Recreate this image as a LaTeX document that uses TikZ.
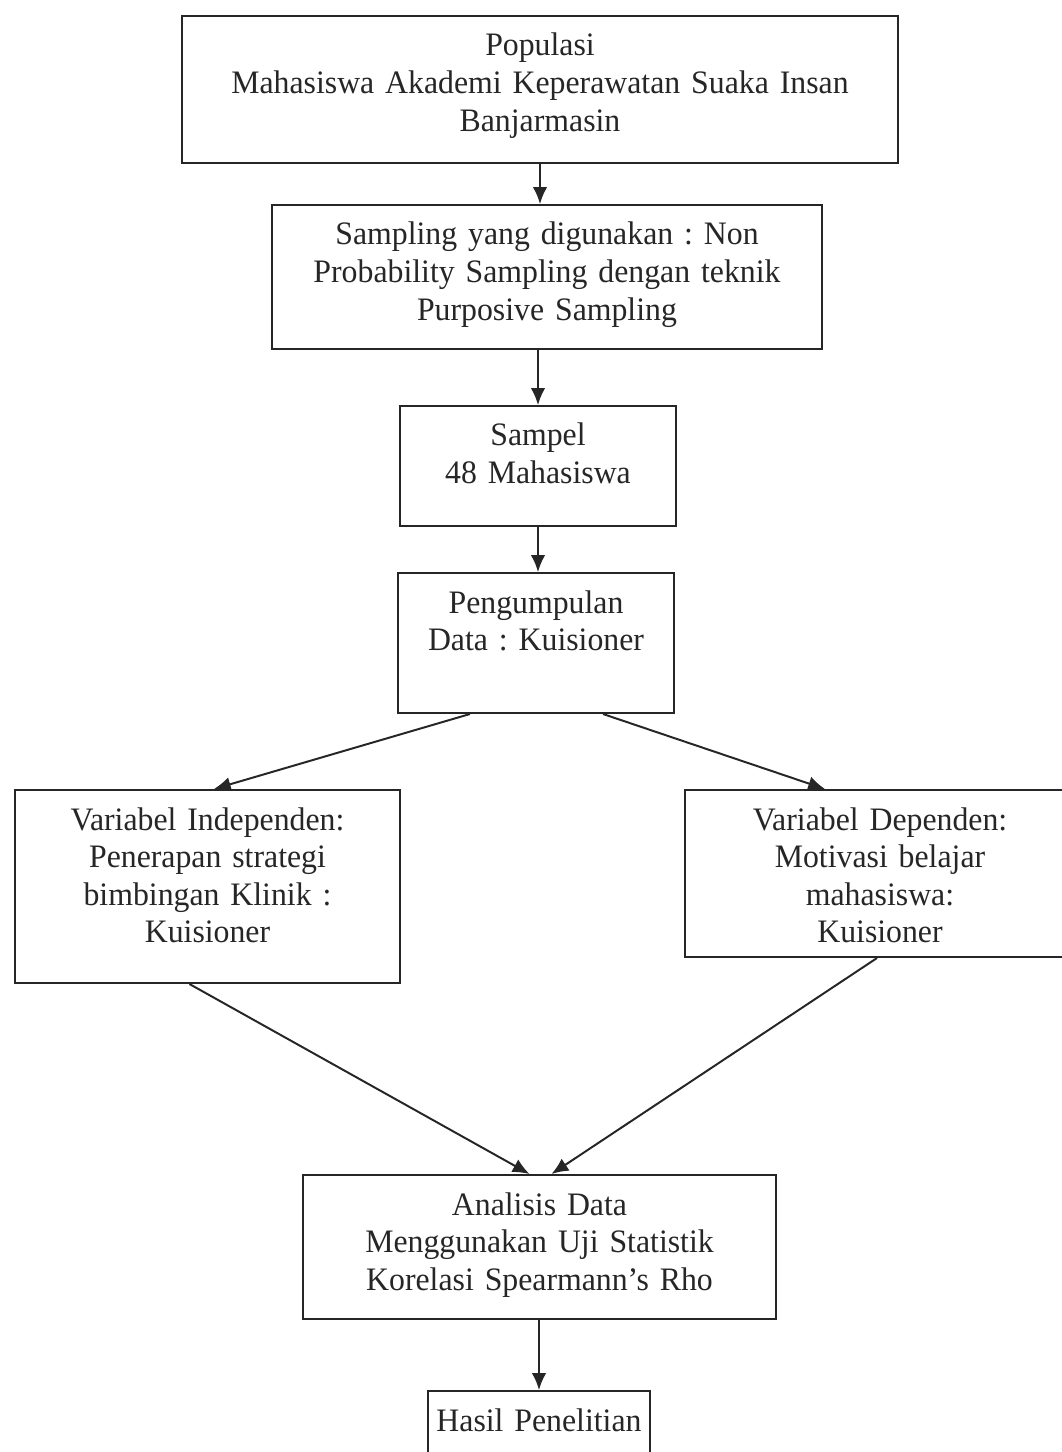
\documentclass[tikz,border=0pt]{standalone}
\usepackage{fontspec}
\setmainfont{Liberation Serif}[FakeStretch=0.97, WordSpace=0.7]
\usepackage{xcolor}
\usepackage{tikz}
\usetikzlibrary{arrows.meta, calc}
\definecolor{InkGrey}{HTML}{262626}
\frenchspacing

\begin{document}
\begin{tikzpicture}[x=0.025cm, y=-0.025cm, >={Latex[length=0.42cm, width=0.36cm]},
    box/.style={draw=InkGrey, line width=1.4pt, anchor=north, align=center, inner xsep=0pt, inner ysep=0pt,
        text height=1.0cm, text=InkGrey, font=\fontsize{23.3}{26.7}\selectfont},
    flow/.style={->, line width=1.4pt, draw=InkGrey}]
    \useasboundingbox (0,0) rectangle (1061,1452);

    % Population and sampling
    \node [box, text width=17.9cm, text depth=2.675cm] (populasi) at (540,15)
        {Populasi\\Mahasiswa Akademi Keperawatan Suaka Insan\\Banjarmasin};
    \node [box, text width=13.75cm, text depth=2.6cm] (sampling) at (547,204)
        {Sampling yang digunakan : Non\\Probability Sampling dengan teknik\\Purposive Sampling};
    \node [box, text width=6.9cm, text depth=2.0cm] (sampel) at (538,405)
        {Sampel\\48 Mahasiswa};
    \node [box, text width=6.9cm, text depth=2.5cm] (kumpul) at (536,572)
        {Pengumpulan\\Data : Kuisioner};

    % Variables
    \node [box, text width=9.625cm, text depth=3.825cm] (indep) at (207.5,789)
        {Variabel Independen:\\Penerapan strategi\\bimbingan Klinik :\\Kuisioner};
    \node [box, text width=9.75cm, text depth=3.175cm] (dep) at (880,789)
        {Variabel Dependen:\\Motivasi belajar\\mahasiswa:\\Kuisioner};

    % Analysis and result
    \node [box, text width=11.825cm, text depth=2.6cm] (analisis) at (539.5,1174)
        {Analisis Data\\Menggunakan Uji Statistik\\Korelasi Spearmann's Rho};
    \node [box, text width=5.55cm, text depth=2.5cm] (hasil) at (539,1390)
        {Hasil Penelitian};

    \draw [flow] (populasi.south) -- (populasi.south |- sampling.north);
    \draw [flow] (sampling.south -| sampel.north) -- (sampel.north);
    \draw [flow] (sampel.south) -- (sampel.south |- kumpul.north);
    \draw [flow] ([xshift=-1.65cm]kumpul.south) -- ([xshift=0.16cm]indep.north);
    \draw [flow] ([xshift=1.675cm]kumpul.south) -- ([xshift=-1.375cm]dep.north);
    \draw [flow] ([xshift=-0.45cm]indep.south) -- ([xshift=-0.25cm]analisis.north);
    \draw [flow] ([xshift=-0.075cm]dep.south) -- ([xshift=0.3cm]analisis.north);
    \draw [flow] (analisis.south -| hasil.north) -- (hasil.north);
\end{tikzpicture}
\end{document}
